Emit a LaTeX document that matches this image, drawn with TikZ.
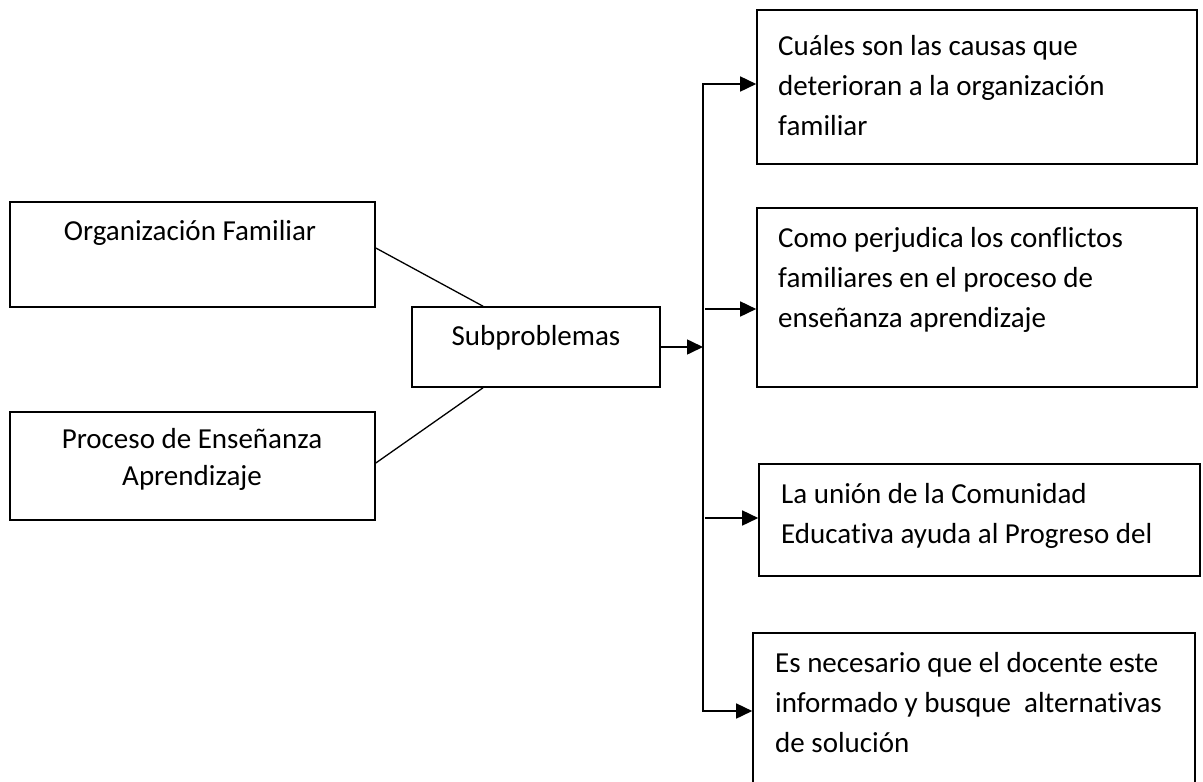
\documentclass[tikz,border=0pt]{standalone}
\usepackage{fontspec}
\setmainfont{Carlito}[Ligatures=NoCommon]
\usetikzlibrary{arrows.meta}
\begin{document}
\begin{tikzpicture}[x=1pt,y=-1pt,
  box/.style={draw,line width=1.6pt,inner sep=0pt,rectangle},
  txt/.style={font=\fontsize{29}{40}\selectfont,inner sep=0pt,anchor=north west,align=left},
  ctxt/.style={font=\fontsize{29}{37}\selectfont,inner sep=0pt,anchor=north,align=center},
  arr/.style={line width=1.6pt,-{Triangle[length=16pt,width=15pt]}},
  ln/.style={line width=1.3pt}]
\useasboundingbox (0,0) rectangle (1203,782);
\fill[white] (0,0) rectangle (1203,782);
\clip (0,0) rectangle (1203,782);
% boxes
\node[box,minimum width=440pt,minimum height=154pt] (b1) at (977,87) {};
\node[box,minimum width=440pt,minimum height=179pt] (b2) at (977,297.5) {};
\node[box,minimum width=441pt,minimum height=112pt] (b3) at (979.5,520) {};
\node[box,minimum width=442pt,minimum height=187pt] (b4) at (974,726.5) {};
\node[box,minimum width=365pt,minimum height=105pt] (l1) at (192.5,254.5) {};
\node[box,minimum width=365pt,minimum height=108pt] (l2) at (192.5,466) {};
\node[box,minimum width=248pt,minimum height=80pt] (s) at (536,347) {};
% texts
\node[txt] (t1) at (778,30) {\rule{0pt}{25pt}Cuáles son las causas que\\deterioran a la organización\\familiar};
\node[txt] (t2) at (778,222) {\rule{0pt}{25pt}Como perjudica los conflictos\\familiares en el proceso de\\enseñanza aprendizaje};
\node[txt] (t3) at (781,478) {\rule{0pt}{25pt}La unión de la Comunidad\\Educativa ayuda al Progreso del};
\node[txt] (t4) at (775,647) {\rule{0pt}{25pt}Es necesario que el docente este\\informado y busque~ alternativas\\de solución};
\node[ctxt] (tl1) at (190,215) {\rule{0pt}{25pt}Organización Familiar};
\node[ctxt] (tl2) at (192,423) {\rule{0pt}{25pt}Proceso de Enseñanza\\Aprendizaje};
\node[ctxt] (ts) at (536,320) {\rule{0pt}{25pt}Subproblemas};
% junction coordinates
\coordinate (j) at (703,347);
\coordinate (jt) at (703,84);
\coordinate (j2) at (705,309);
\coordinate (j3) at (705,518);
\coordinate (jb) at (703,711);
% connectors
\draw[ln] ([yshift=6.5pt]l1.east) -- ([xshift=-53pt]s.north);
\draw[ln] ([yshift=3pt]l2.east) -- ([xshift=-53pt]s.south);
\draw[arr] (s.east) -- (j);
\draw[arr] (j) |- (jt -| b1.west);
\draw[arr] (j) |- (jb -| b4.west);
\draw[arr] (j2) -- (j2 -| b2.west);
\draw[arr] (j3) -- (j3 -| b3.west);
\end{tikzpicture}
\end{document}
